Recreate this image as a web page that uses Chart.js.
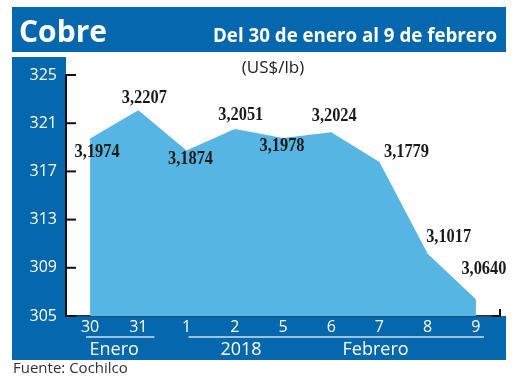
<!DOCTYPE html>
<html><head><meta charset="utf-8">
<script src="https://cdn.jsdelivr.net/npm/chart.js@4/dist/chart.umd.min.js"></script>
<style>html,body{margin:0;padding:0;background:#fff;}canvas{display:block;}</style>
</head><body>
<canvas id="c" width="520" height="390"></canvas>
<script>
const days = ['30','31','1','2','5','6','7','8','9'];
const prices = [319.74, 322.07, 318.74, 320.51, 319.78, 320.24, 317.79, 310.17, 306.40];
const groupLabels = ['Enero', '2018', 'Febrero'];
const titleText = 'Cobre';
const periodText = 'Del 30 de enero al 9 de febrero';
const unitText = '(US$/lb)';
const sourceText = 'Fuente: Cochilco';

const DARK = '#0568ae';
const LIGHT = '#57b5e3';
const labelOffsets = [[7,14],[6,-12],[4,9],[6,-14],[-1,8],[3,-16],[27,-10],[21,-16],[8,-30]];

const frame = {
  id: 'frame',
  beforeDraw(chart) {
    const ctx = chart.ctx, a = chart.chartArea;
    ctx.save();
    ctx.fillStyle = '#fff';
    ctx.fillRect(0, 0, 520, 390);
    ctx.fillStyle = DARK;
    ctx.fillRect(12, 7, 494, 45);
    ctx.fillRect(12, 57, a.left - 12, 303);
    ctx.fillRect(12, a.bottom, 494, 360 - a.bottom);
    ctx.fillStyle = '#fff';
    ctx.textBaseline = 'alphabetic';
    ctx.textAlign = 'left';
    ctx.font = 'bold 31px "Open Sans"';
    ctx.fillText(titleText, 19, 42, 88);
    ctx.textAlign = 'right';
    ctx.font = 'bold 20px "Open Sans"';
    ctx.fillText(periodText, 497, 42, 284);
    ctx.fillStyle = '#222';
    ctx.textAlign = 'center';
    ctx.textBaseline = 'middle';
    ctx.font = '17px "Open Sans"';
    ctx.fillText(unitText, 273, 68, 70);
    ctx.textAlign = 'left';
    ctx.fillStyle = '#333';
    ctx.font = '15px "Open Sans"';
    ctx.fillText(sourceText, 13, 369, 118);
    ctx.restore();
  },
  afterDraw(chart) {
    const ctx = chart.ctx, a = chart.chartArea;
    const ys = chart.scales.y, xs = chart.scales.x;
    ctx.save();
    ctx.strokeStyle = '#111';
    ctx.lineWidth = 2;
    ys.ticks.forEach(t => {
      const y = ys.getPixelForValue(t.value);
      ctx.beginPath(); ctx.moveTo(a.left, y); ctx.lineTo(a.left + 10, y); ctx.stroke();
    });
    ctx.beginPath(); ctx.moveTo(a.right - 8, a.bottom); ctx.lineTo(a.right, a.bottom); ctx.lineTo(a.right, a.bottom - 7); ctx.stroke();
    const p = i => xs.getPixelForValue(i);
    ctx.strokeStyle = '#d5dfea';
    ctx.lineWidth = 1.5;
    ctx.beginPath(); ctx.moveTo(p(0) - 4, 337); ctx.lineTo(p(1) + 16, 337); ctx.stroke();
    ctx.beginPath(); ctx.moveTo(p(2) + 2, 337); ctx.lineTo(p(8) + 8, 337); ctx.stroke();
    ctx.fillStyle = '#fff';
    ctx.font = '18px "Open Sans"';
    ctx.textAlign = 'center';
    ctx.textBaseline = 'middle';
    const gpos = [0.5, 3.13, 5.92];
    groupLabels.forEach((g, i) => {
      const f = Math.floor(gpos[i]);
      const x0 = p(f), x1 = p(f + 1);
      ctx.fillText(g, x0 + (x1 - x0) * (gpos[i] - f), 350);
    });
    const meta = chart.getDatasetMeta(0);
    ctx.fillStyle = '#1a1a1a';
    ctx.font = 'bold 18px "Liberation Serif"';
    meta.data.forEach((pt, i) => {
      const txt = (prices[i] / 100).toFixed(4).replace('.', ',');
      ctx.fillText(txt, pt.x + labelOffsets[i][0], pt.y + labelOffsets[i][1], 45);
    });
    ctx.restore();
  }
};

new Chart(document.getElementById('c'), {
  type: 'line',
  data: {
    labels: days,
    datasets: [{
      data: prices,
      fill: 'start',
      backgroundColor: LIGHT,
      borderWidth: 0,
      borderColor: LIGHT,
      pointRadius: 0,
      tension: 0
    }]
  },
  options: {
    responsive: false,
    animation: false,
    devicePixelRatio: 1,
    layout: { padding: { left: 12, top: 75, right: 20, bottom: 30 } },
    plugins: { legend: { display: false }, tooltip: { enabled: false }, title: { display: false } },
    scales: {
      x: {
        offset: true,
        grid: { display: false, drawTicks: false },
        border: { display: true, color: '#333', width: 1.5 },
        ticks: { color: '#fff', font: { family: 'Open Sans', size: 16 }, padding: 2, maxRotation: 0, autoSkip: false },
        afterFit(s) { s.height = 44; }
      },
      y: {
        min: 305, max: 325,
        grid: { display: false, drawTicks: false },
        border: { display: true, color: '#111', width: 2 },
        ticks: { stepSize: 4, color: '#fff', font: { family: 'Open Sans', size: 16 }, padding: 9 },
        afterFit(s) { s.width = 54; }
      }
    }
  },
  plugins: [frame]
});
</script>
</body></html>
